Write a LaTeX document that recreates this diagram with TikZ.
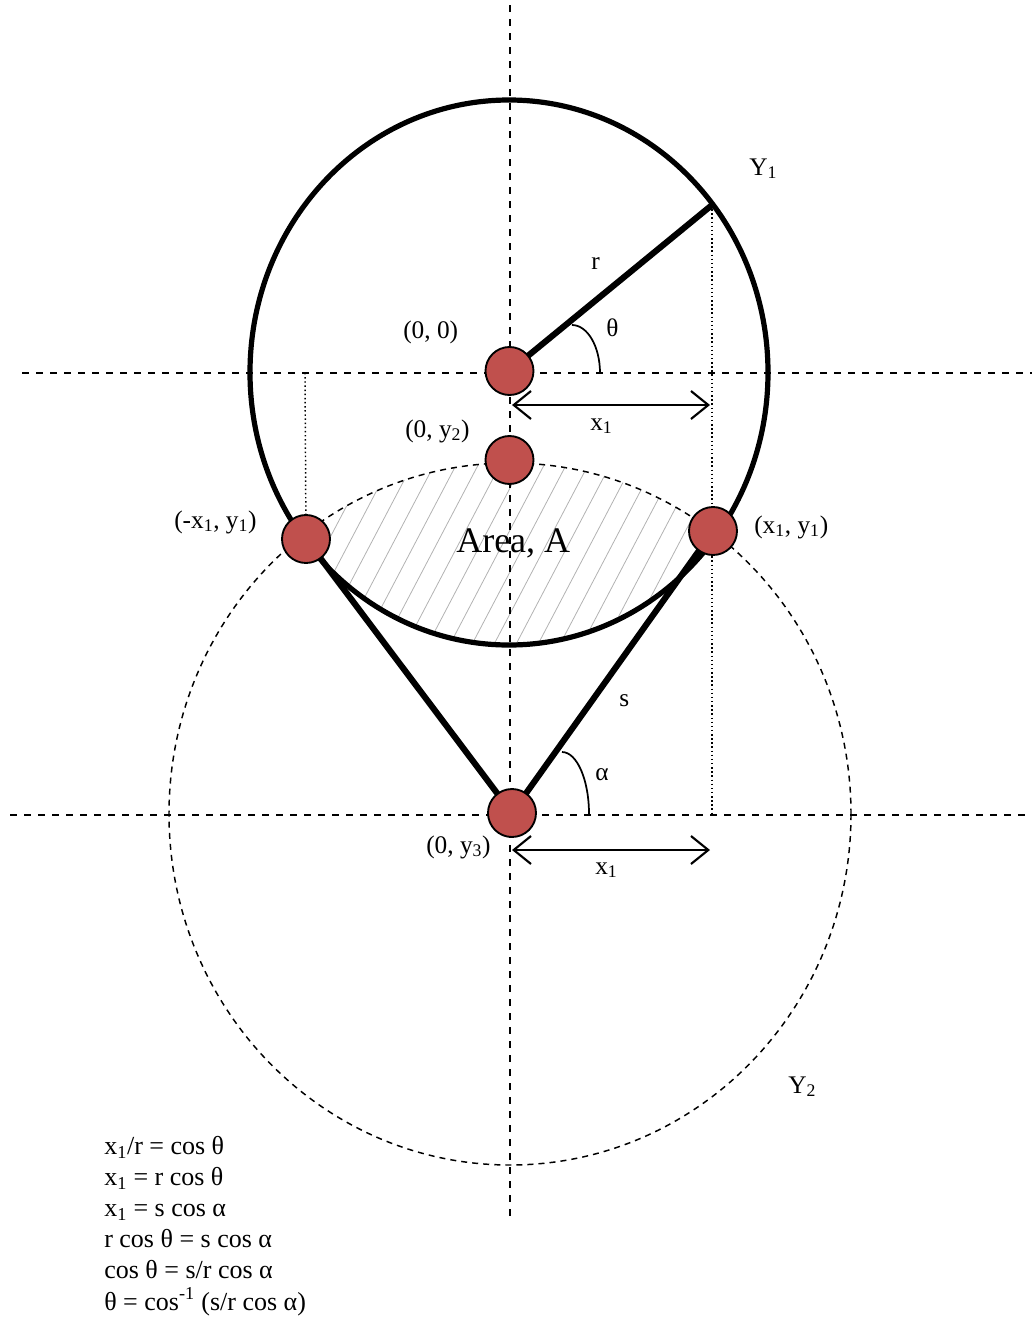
\documentclass[tikz,border=0pt]{standalone}
\usepackage{fontspec}
\setmainfont{Liberation Serif}
\usetikzlibrary{arrows.meta}
\definecolor{dotred}{HTML}{C0504D}
\begin{document}
\begin{tikzpicture}[x=0.75pt,y=-0.75pt,
  axis/.style={line width=1.5pt, dash pattern=on 5.5pt off 5pt},
  guide/.style={line width=1.1pt, dotted},
  bigcirc/.style={line width=3.9pt},
  lens/.style={line width=1.1pt, dash pattern=on 4.5pt off 3.8pt},
  rod/.style={line width=4.6pt},
  hatch/.style={line width=0.6pt, gray!60},
  anglearc/.style={line width=1.3pt},
  dim/.style={line width=1.6pt, {Straight Barb[length=13pt,width=21pt,line width=1.6pt]}-{Straight Barb[length=13pt,width=21pt,line width=1.6pt]}},
  dot/.style={circle, fill=dotred, draw=black, line width=1.4pt, minimum size=36pt, inner sep=0pt},
  lbl/.style={anchor=base west, inner sep=0pt, font=\fontsize{19}{23}\selectfont},
  eq/.style={anchor=base west, inner sep=0pt, font=\fontsize{19.5}{23}\selectfont}
]
\useasboundingbox (0,0) rectangle (1032,1318);

% key coordinates
\coordinate (O) at (509.5,371);
\coordinate (P1) at (712,205);
\coordinate (L) at (306,539);
\coordinate (R) at (713,531);
\coordinate (B) at (512,813);
\coordinate (T2) at (509.5,460);

% hatching of the lens
\begin{scope}
  \clip (509,372.5) ellipse [x radius=259, y radius=272.5];
  \clip (510,814) ellipse [x radius=341, y radius=351];
  \foreach \k in {0,...,30} {
    \draw[hatch] (140+22*\k,690) -- ++(147,-280);
  }
\end{scope}

% axes
\coordinate (vA) at (509.5,5);
\coordinate (vB) at (509.5,1218);
\coordinate (hA) at (22,373);
\coordinate (hB) at (1032,373);
\coordinate (gA) at (10,815);
\coordinate (gB) at (1025,815);
\draw[axis] (vA) -- (vB);
\draw[axis] (hA) -- (hB);
\draw[axis] (gA) -- (gB);

% dotted guides
\coordinate (g1) at (712,815);
\coordinate (g2) at (305,373);
\draw[guide] (P1) -- (g1);
\draw[guide] (g2) -- (L);

% circles
\draw[lens] (510,814) ellipse [x radius=341, y radius=351];
\draw[bigcirc] (509,372.5) ellipse [x radius=259, y radius=272.5];

% rods
\draw[rod] (O) -- (P1);
\draw[rod] (L) -- (B);
\draw[rod] (R) -- (B);

% angle arcs
\draw[anglearc] (600,373) arc[start angle=0, end angle=-90, x radius=28, y radius=48];
\draw[anglearc] (589,814) arc[start angle=0, end angle=-90, x radius=27, y radius=62];

% dimension arrows
\coordinate (a1) at (512,405);
\coordinate (a2) at (710,405);
\coordinate (b1) at (512,850);
\coordinate (b2) at (710,850);
\draw[dim] (a1) -- (a2);
\draw[dim] (b1) -- (b2);

% dots
\node[dot] (dO) at (O) {};
\node[dot] (dT) at (T2) {};
\node[dot] (dL) at (L) {};
\node[dot] (dR) at (R) {};
\node[dot] (dB) at (B) {};

% labels
\node[lbl] (lY1) at (749,175) {Y\textsubscript{1}};
\node[lbl] (lY2) at (788,1093) {Y\textsubscript{2}};
\node[lbl] (lr) at (591,269) {r};
\node[lbl] (lth) at (606,336) {θ};
\node[lbl] (l00) at (403,338) {(0, 0)};
\node[lbl] (lx1a) at (590,430) {x\textsubscript{1}};
\node[lbl] (l0y2) at (405,437) {(0, y\textsubscript{2})};
\node[lbl] (lmx) at (174,528) {(-x\textsubscript{1}, y\textsubscript{1})};
\node[lbl] (lpx) at (754,533) {(x\textsubscript{1}, y\textsubscript{1})};
\node[anchor=base west, inner sep=0pt, font=\fontsize{27}{30}\selectfont] (lA) at (456,552) {Area, A};
\node[lbl] (ls) at (619,706) {s};
\node[lbl] (lal) at (595,780) {α};
\node[lbl] (l0y3) at (426,853) {(0, y\textsubscript{3})};
\node[lbl] (lx1b) at (595,874) {x\textsubscript{1}};

% equations
\node[eq] (e1) at (104,1154) {x\textsubscript{1}/r = cos θ};
\node[eq] (e2) at (104,1185.2) {x\textsubscript{1} = r cos θ};
\node[eq] (e3) at (104,1216.4) {x\textsubscript{1} = s cos α};
\node[eq] (e4) at (104,1247.6) {r cos θ = s cos α};
\node[eq] (e5) at (104,1278.8) {cos θ = s/r cos α};
\node[eq] (e6) at (104,1310) {θ = cos\textsuperscript{-1} (s/r cos α)};
\end{tikzpicture}
\end{document}
